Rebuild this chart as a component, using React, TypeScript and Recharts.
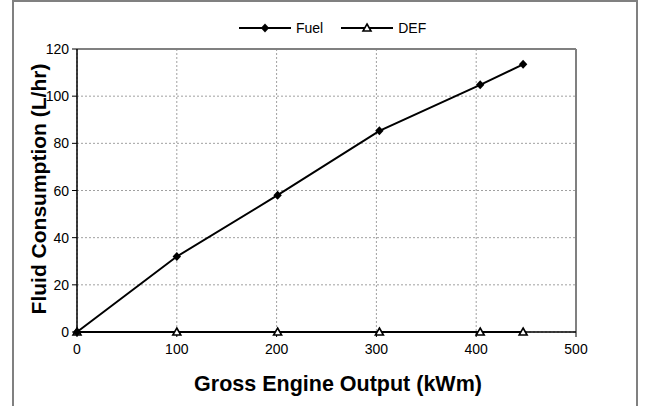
import {LineChart, Line, XAxis, YAxis, CartesianGrid, ReferenceLine, Label} from 'recharts';

const power = [0, 100, 201, 303, 404, 447];
const fuel = [0, 32, 58, 85.3, 104.8, 113.5];
const def = [0, 0, 0, 0, 0, 0];
const xTicks = [0, 100, 200, 300, 400, 500];
const yTicks = [0, 20, 40, 60, 80, 100, 120];

const data = power.map((x, i) => ({x, fuel: fuel[i], def: def[i]}));

const FONT = '"Liberation Sans", Arial, sans-serif';

function Diamond({cx, cy}: { cx?: number; cy?: number }) {
    if (cx == null || cy == null) return null;
    return <path d={`M${cx},${cy - 4.5}L${cx + 4.2},${cy}L${cx},${cy + 4.5}L${cx - 4.2},${cy}Z`} fill="#000"/>;
}

function Triangle({cx, cy}: { cx?: number; cy?: number }) {
    if (cx == null || cy == null) return null;
    return <path d={`M${cx},${cy - 4}L${cx + 4},${cy + 3}L${cx - 4},${cy + 3}Z`}
                 fill="#fff" stroke="#000" strokeWidth={1.6}/>;
}

function XTick({x, y, payload}: any) {
    return <text x={x} y={y + 12.5} textAnchor="middle" fontSize={14} fontFamily={FONT} fill="#000">{payload.value}</text>;
}

function YTick({x, y, payload}: any) {
    return <text x={x} y={y} textAnchor="end" dominantBaseline="central" fontSize={14} fontFamily={FONT}
                 fill="#000">{payload.value}</text>;
}

function LegendItem({label, marker}: { label: string; marker: 'diamond' | 'triangle' }) {
    return (
        <div style={{display: 'flex', alignItems: 'center', marginRight: 18}}>
            <svg width={52} height={14} style={{display: 'block'}}>
                <line x1={0} y1={7} x2={52} y2={7} stroke="#000" strokeWidth={2}/>
                {marker === 'diamond' ? <Diamond cx={26} cy={7}/> : <Triangle cx={26} cy={7}/>}
            </svg>
            <span style={{marginLeft: 5, fontSize: 14, fontFamily: FONT, color: '#000'}}>{label}</span>
        </div>
    );
}

export default function App() {
    return (
        <div style={{position: 'absolute', left: 0, top: 0, width: 645, height: 406, background: '#fff', overflow: 'hidden'}}>
            <div style={{
                position: 'absolute', left: 12, top: 0, width: 622, height: 420,
                borderLeft: '2px solid #808080', borderTop: '2px solid #808080', borderRight: '2px solid #808080',
            }}/>
            <div style={{position: 'absolute', left: 239, top: 20, display: 'flex', alignItems: 'center'}}>
                <LegendItem label="Fuel" marker="diamond"/>
                <LegendItem label="DEF" marker="triangle"/>
            </div>
            <div style={{position: 'absolute', left: 0, top: 0}}>
                <LineChart width={645} height={406} data={data}
                           margin={{top: 49, right: 69, bottom: 0, left: 0}}>
                    <CartesianGrid stroke="#a0a0a0" strokeDasharray="2 2" strokeWidth={1}/>
                    <ReferenceLine y={120} stroke="#808080" strokeWidth={2}/>
                    <ReferenceLine x={500} stroke="#808080" strokeWidth={2}/>
                    <XAxis dataKey="x" type="number" domain={[0, 500]} ticks={xTicks} height={74}
                           axisLine={{stroke: '#000', strokeWidth: 1.5}} tickLine={{stroke: '#000'}}
                           tickSize={5} tickMargin={4} tick={<XTick/>}>
                        <Label content={() => (
                            <text x={338} y={391} textAnchor="middle" fontSize={21.5} fontWeight="bold"
                                  fontFamily={FONT} fill="#000">Gross Engine Output (kWm)</text>
                        )}/>
                    </XAxis>
                    <YAxis type="number" domain={[0, 120]} ticks={yTicks} width={77}
                           axisLine={{stroke: '#000', strokeWidth: 1.5}} tickLine={{stroke: '#000'}}
                           tickSize={5} tickMargin={3} tick={<YTick/>}>
                        <Label content={() => (
                            <text x={38.5} y={189} textAnchor="middle" dominantBaseline="central"
                                  transform="rotate(-90, 38.5, 189)" fontSize={21} fontWeight="bold"
                                  fontFamily={FONT} fill="#000">Fluid Consumption (L/hr)</text>
                        )}/>
                    </YAxis>
                    <Line dataKey="def" name="DEF" stroke="#000" strokeWidth={2} isAnimationActive={false}
                          dot={(p: any) => <Triangle key={`d${p.index}`} cx={p.cx} cy={p.cy}/>}/>
                    <Line dataKey="fuel" name="Fuel" stroke="#000" strokeWidth={2} isAnimationActive={false}
                          dot={(p: any) => <Diamond key={`f${p.index}`} cx={p.cx} cy={p.cy}/>}/>
                </LineChart>
            </div>
        </div>
    );
}
